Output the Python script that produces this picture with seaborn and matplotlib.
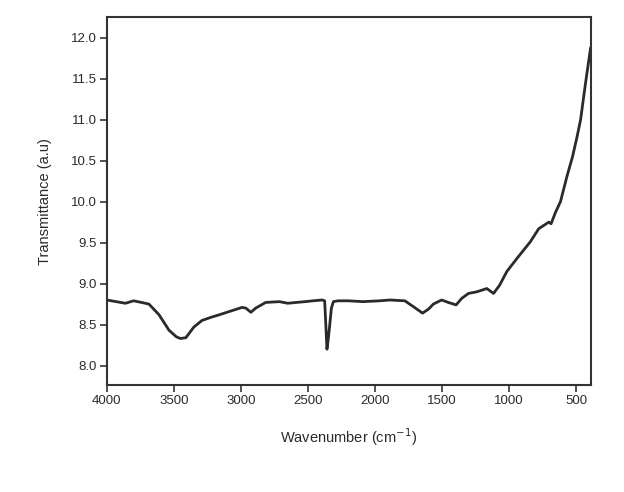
import numpy as np
import pandas as pd
import matplotlib
matplotlib.use("Agg")
import matplotlib.pyplot as plt
import seaborn as sns

wavenumber = [4000, 3930, 3860, 3800, 3740, 3685, 3610, 3535, 3480, 3450, 3410, 3350,
              3290, 3220, 3160, 3085, 2990, 2962, 2925, 2890, 2815, 2713, 2650, 2588,
              2520, 2463, 2393, 2375, 2368, 2358, 2350, 2340, 2325, 2310, 2277, 2200,
              2090, 1964, 1890, 1777, 1715, 1645, 1600, 1565, 1503, 1453, 1395, 1353,
              1303, 1240, 1166, 1116, 1071, 1016, 940, 842, 779, 704, 687, 654, 617,
              570, 527, 495, 467, 430, 392]
transmittance = [8.80, 8.78, 8.76, 8.79, 8.77, 8.75, 8.62, 8.43, 8.35, 8.33, 8.34, 8.47,
                 8.55, 8.59, 8.62, 8.66, 8.71, 8.70, 8.65, 8.70, 8.77, 8.78, 8.76, 8.77,
                 8.78, 8.79, 8.80, 8.79, 8.55, 8.20, 8.30, 8.45, 8.70, 8.78, 8.79, 8.79,
                 8.78, 8.79, 8.80, 8.79, 8.72, 8.64, 8.69, 8.75, 8.80, 8.77, 8.74, 8.82,
                 8.88, 8.90, 8.94, 8.88, 8.98, 9.15, 9.31, 9.51, 9.67, 9.75, 9.73, 9.87,
                 10.00, 10.30, 10.55, 10.78, 11.00, 11.45, 11.88]

df = pd.DataFrame({"Wavenumber": wavenumber, "Transmittance": transmittance})

sns.set_style("ticks")
plt.rcParams['font.family'] = ['Liberation Sans', 'DejaVu Sans']

fig = plt.figure(figsize=(6.24, 4.92), dpi=100)
ax = fig.add_axes([0.171, 0.217, 0.776, 0.748])

sns.lineplot(data=df, x="Wavenumber", y="Transmittance", ax=ax, color="#2a2a2a",
             linewidth=2.0, sort=False, estimator=None)

ax.set_xlim(4000, 390)
ax.set_ylim(7.76, 12.25)
ax.set_xticks([4000, 3500, 3000, 2500, 2000, 1500, 1000, 500])
ax.set_yticks([8.0, 8.5, 9.0, 9.5, 10.0, 10.5, 11.0, 11.5, 12.0])
ax.set_yticklabels(["8.0", "8.5", "9.0", "9.5", "10.0", "10.5", "11.0", "11.5", "12.0"])

for s in ax.spines.values():
    s.set_visible(True)
    s.set_linewidth(1.5)
    s.set_color("#333333")
ax.tick_params(axis="both", direction="out", length=5, width=1.2, colors="#333333",
               labelsize=9.5, labelcolor="#2a2a2a", pad=2)
ax.set_xlabel("Wavenumber (cm$^{-1}$)", fontsize=10.5, color="#2a2a2a", labelpad=14)
ax.set_ylabel("Transmittance (a.u)", fontsize=10.5, color="#2a2a2a", labelpad=14)

fig.savefig("out.png", dpi=100)
